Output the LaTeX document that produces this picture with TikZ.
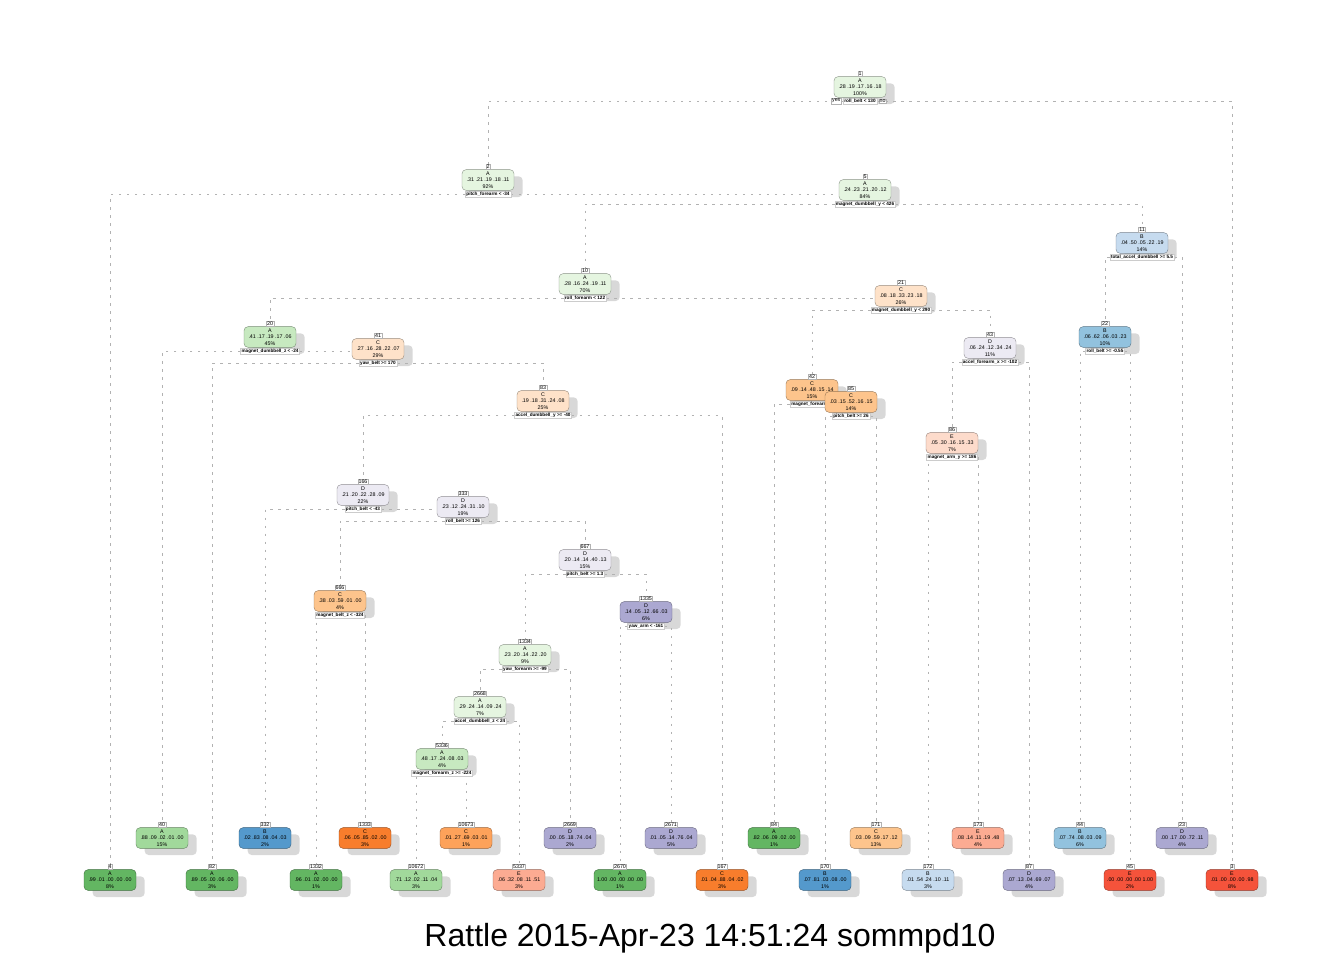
\documentclass[tikz,border=0pt]{standalone}
\usepackage{fontspec}
\setmainfont{Liberation Sans}
\usetikzlibrary{positioning, shadows, backgrounds}

% class colours (greens A, blues B, oranges C, purples D, reds E)
\definecolor{grA1}{HTML}{E5F5E0}
\definecolor{grA2}{HTML}{C7E9C0}
\definecolor{grA3}{HTML}{A1D99B}
\definecolor{grA4}{HTML}{63B662}
\definecolor{blB1}{HTML}{C6DBEF}
\definecolor{blB2}{HTML}{92C2DE}
\definecolor{blB3}{HTML}{5499CC}
\definecolor{orC1}{HTML}{FEE2C9}
\definecolor{orC2}{HTML}{FDC48C}
\definecolor{orC3}{HTML}{FDA25A}
\definecolor{orC4}{HTML}{F87D2C}
\definecolor{puD1}{HTML}{ECEAF3}
\definecolor{puD2}{HTML}{ABA8D1}
\definecolor{reE1}{HTML}{FDDBCB}
\definecolor{reE2}{HTML}{FCAB92}
\definecolor{reE3}{HTML}{F5533B}

% tree node: name, x, y, number, class, probabilities, percent, colour
\newcommand{\treenode}[8]{%
  \node[box, fill=#8, draw=#8!60!black] (#1) at (#2,#3) {#5\\#6\\#7};
  \node[num, above=0.2pt of #1] (#1n) {#4};
}
% split rule under a node
\newcommand{\splitrule}[2]{%
  \node[split, below=0.3pt of #1] (#1s) {#2};
}

\begin{document}
\begin{tikzpicture}[x=0.75pt, y=-0.75pt,
    box/.style={rounded corners=3pt, line width=0.3pt, align=center,
      minimum width=39pt, minimum height=15.5pt, inner sep=0.5pt,
      font=\fontsize{4}{4.9}\selectfont,
      drop shadow={shadow xshift=6.5pt, shadow yshift=-5pt, fill=black!30}},
    num/.style={fill=white, draw=gray!60, line width=0.2pt, inner sep=0.5pt,
      font=\fontsize{4}{4}\selectfont},
    split/.style={fill=white, draw=gray!40, line width=0.2pt, inner sep=0.8pt,
      font=\fontsize{3.5}{3.5}\selectfont\bfseries},
    branch/.style={gray!60, line width=0.4pt, dash pattern=on 2pt off 4pt}]
  % 1. Page
  \useasboundingbox (0,0) rectangle (1344,960);

  % 2. Inner nodes
  \treenode{n1}{860}{87}{1}{A}{.28 .19 .17 .16 .18}{100\%}{grA1}
  \splitrule{n1}{roll\_belt < 130}
  \node[num, left=1.5pt of n1s] (yes) {yes};
  \node[num, right=1.5pt of n1s] (no) {no};
  \treenode{n2}{488}{180}{2}{A}{.31 .21 .19 .18 .11}{92\%}{grA1}
  \splitrule{n2}{pitch\_forearm < -34}
  \treenode{n5}{865}{190}{5}{A}{.24 .23 .21 .20 .12}{84\%}{grA1}
  \splitrule{n5}{magnet\_dumbbell\_y < 426}
  \treenode{n10}{585}{284}{10}{A}{.28 .16 .24 .19 .11}{70\%}{grA1}
  \splitrule{n10}{roll\_forearm < 122}
  \treenode{n11}{1142}{243}{11}{B}{.04 .50 .05 .22 .19}{14\%}{blB1}
  \splitrule{n11}{total\_accel\_dumbbell >= 5.5}
  \treenode{n20}{270}{337}{20}{A}{.41 .17 .19 .17 .06}{45\%}{grA2}
  \splitrule{n20}{magnet\_dumbbell\_z < -24}
  \treenode{n21}{901}{296}{21}{C}{.08 .18 .33 .23 .18}{26\%}{orC1}
  \splitrule{n21}{magnet\_dumbbell\_y < 290}
  \treenode{n22}{1105}{337}{22}{B}{.06 .62 .06 .03 .23}{10\%}{blB2}
  \splitrule{n22}{roll\_belt >= -0.55}
  \treenode{n41}{378}{349}{41}{C}{.27 .16 .28 .22 .07}{29\%}{orC1}
  \splitrule{n41}{yaw\_belt >= 170}
  \treenode{n43}{990}{348}{43}{D}{.06 .24 .12 .34 .24}{11\%}{puD1}
  \splitrule{n43}{accel\_forearm\_x >= -102}
  \treenode{n42}{812}{390}{42}{C}{.09 .14 .48 .15 .14}{15\%}{orC2}
  \splitrule{n42}{magnet\_forearm\_z}
  \treenode{n85}{851}{402}{85}{C}{.03 .15 .52 .16 .15}{14\%}{orC2}
  \splitrule{n85}{pitch\_belt >= 26}
  \treenode{n83}{543}{401}{83}{C}{.19 .18 .31 .24 .08}{25\%}{orC1}
  \splitrule{n83}{accel\_dumbbell\_y >= -40}
  \treenode{n86}{952}{443}{86}{E}{.05 .30 .16 .15 .33}{7\%}{reE1}
  \splitrule{n86}{magnet\_arm\_y >= 186}
  \treenode{n166}{363}{495}{166}{D}{.21 .20 .22 .28 .09}{22\%}{puD1}
  \splitrule{n166}{pitch\_belt < -43}
  \treenode{n333}{463}{507}{333}{D}{.23 .12 .24 .31 .10}{19\%}{puD1}
  \splitrule{n333}{roll\_belt >= 126}
  \treenode{n667}{585}{560}{667}{D}{.20 .14 .14 .40 .13}{15\%}{puD1}
  \splitrule{n667}{pitch\_belt >= 1.3}
  \treenode{n666}{340}{601}{666}{C}{.38 .03 .59 .01 .00}{4\%}{orC2}
  \splitrule{n666}{magnet\_belt\_z < -324}
  \treenode{n1335}{646}{612}{1335}{D}{.14 .05 .12 .66 .03}{6\%}{puD2}
  \splitrule{n1335}{yaw\_arm < -161}
  \treenode{n1334}{525}{655}{1334}{A}{.23 .20 .14 .22 .20}{9\%}{grA1}
  \splitrule{n1334}{yaw\_forearm >= -99}
  \treenode{n2668}{480}{707}{2668}{A}{.29 .24 .14 .09 .24}{7\%}{grA1}
  \splitrule{n2668}{accel\_dumbbell\_z < 24}
  \treenode{n5336}{442}{759}{5336}{A}{.48 .17 .24 .08 .03}{4\%}{grA2}
  \splitrule{n5336}{magnet\_forearm\_z >= -224}

  % 3. Leaves, upper row
  \treenode{n40}{162}{838}{40}{A}{.88 .09 .02 .01 .00}{15\%}{grA3}
  \treenode{n332}{265}{838}{332}{B}{.02 .83 .08 .04 .03}{2\%}{blB3}
  \treenode{n1333}{365}{838}{1333}{C}{.06 .05 .85 .02 .00}{3\%}{orC4}
  \treenode{n10673}{466}{838}{10673}{C}{.01 .27 .69 .03 .01}{1\%}{orC3}
  \treenode{n2669}{570}{838}{2669}{D}{.00 .05 .18 .74 .04}{2\%}{puD2}
  \treenode{n2671}{671}{838}{2671}{D}{.01 .05 .14 .76 .04}{5\%}{puD2}
  \treenode{n84}{774}{838}{84}{A}{.82 .06 .09 .02 .00}{1\%}{grA4}
  \treenode{n171}{876}{838}{171}{C}{.03 .09 .59 .17 .12}{13\%}{orC2}
  \treenode{n173}{978}{838}{173}{E}{.08 .14 .11 .19 .48}{4\%}{reE2}
  \treenode{n44}{1080}{838}{44}{B}{.07 .74 .08 .03 .09}{6\%}{blB2}
  \treenode{n23}{1182}{838}{23}{D}{.00 .17 .00 .72 .11}{4\%}{puD2}

  % 4. Leaves, lower row
  \treenode{n4}{110}{880}{4}{A}{.99 .01 .00 .00 .00}{8\%}{grA4}
  \treenode{n82}{212}{880}{82}{A}{.89 .05 .00 .06 .00}{3\%}{grA4}
  \treenode{n1332}{316}{880}{1332}{A}{.96 .01 .02 .00 .00}{1\%}{grA4}
  \treenode{n10672}{416}{880}{10672}{A}{.71 .12 .02 .11 .04}{3\%}{grA3}
  \treenode{n5337}{519}{880}{5337}{E}{.06 .32 .08 .11 .51}{3\%}{reE2}
  \treenode{n2670}{620}{880}{2670}{A}{1.00 .00 .00 .00 .00}{1\%}{grA4}
  \treenode{n167}{722}{880}{167}{C}{.01 .04 .88 .04 .02}{3\%}{orC4}
  \treenode{n170}{825}{880}{170}{B}{.07 .81 .03 .08 .00}{1\%}{blB3}
  \treenode{n172}{928}{880}{172}{B}{.01 .54 .24 .10 .11}{3\%}{blB1}
  \treenode{n87}{1029}{880}{87}{D}{.07 .13 .04 .69 .07}{4\%}{puD2}
  \treenode{n45}{1130}{880}{45}{E}{.00 .00 .00 .00 1.00}{2\%}{reE3}
  \treenode{n3}{1232}{880}{3}{E}{.01 .00 .00 .00 .98}{8\%}{reE3}

  % 5. Branches (behind everything)
  \begin{scope}[on background layer]
    \draw[branch] (n1s) -| (n2n) (n1s) -| (n3n);
    \draw[branch] (n2s) -| (n4n) (n2s) -| (n5n);
    \draw[branch] (n5s) -| (n10n) (n5s) -| (n11n);
    \draw[branch] (n10s) -| (n20n) (n10s) -| (n21n);
    \draw[branch] (n11s) -| (n22n) (n11s) -| (n23n);
    \draw[branch] (n20s) -| (n40n) (n20s) -| (n41n);
    \draw[branch] (n41s) -| (n82n) (n41s) -| (n83n);
    \draw[branch] (n83s) -| (n166n) (n83s) -| (n167n);
    \draw[branch] (n166s) -| (n332n) (n166s) -| (n333n);
    \draw[branch] (n333s) -| (n666n) (n333s) -| (n667n);
    \draw[branch] (n666s) -| (n1332n) (n666s) -| (n1333n);
    \draw[branch] (n667s) -| (n1334n) (n667s) -| (n1335n);
    \draw[branch] (n1334s) -| (n2668n) (n1334s) -| (n2669n);
    \draw[branch] (n2668s) -| (n5336n) (n2668s) -| (n5337n);
    \draw[branch] (n5336s) -| (n10672n) (n5336s) -| (n10673n);
    \draw[branch] (n1335s) -| (n2670n) (n1335s) -| (n2671n);
    \draw[branch] (n21s) -| (n42n) (n21s) -| (n43n);
    \draw[branch] (n42s) -| (n84n) (n42s) -| (n85n);
    \draw[branch] (n85s) -| (n170n) (n85s) -| (n171n);
    \draw[branch] (n43s) -| (n86n) (n43s) -| (n87n);
    \draw[branch] (n86s) -| (n172n) (n86s) -| (n173n);
    \draw[branch] (n22s) -| (n44n) (n22s) -| (n45n);
  \end{scope}

  % 6. Caption
  \node[font=\fontsize{24}{28}\selectfont] (title) at (710,938)
    {Rattle 2015-Apr-23 14:51:24 sommpd10};
\end{tikzpicture}
\end{document}
